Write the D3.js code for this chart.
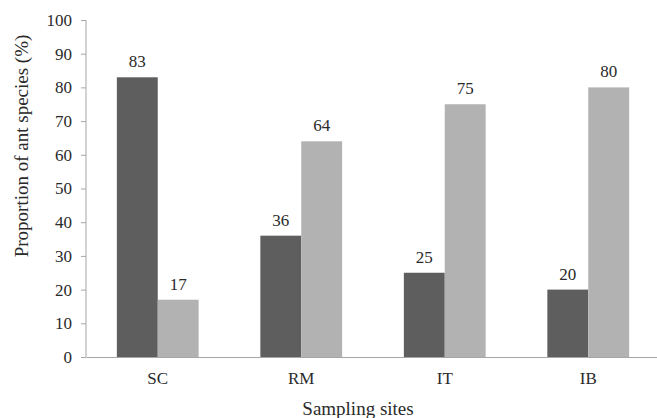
<!DOCTYPE html>
<html><head><meta charset="utf-8">
<script src="https://cdn.jsdelivr.net/npm/d3@7"></script>
<style>body{margin:0;background:#fff}svg{display:block}</style>
</head><body>
<script>
const categories = ["SC", "RM", "IT", "IB"];
const seriesNames = ["Series 1", "Series 2"];
const series1 = [83, 36, 25, 20];
const series2 = [17, 64, 75, 80];
const yTicks = [0,10,20,30,40,50,60,70,80,90,100];

const W = 657, H = 418;
const svg = d3.select("body").append("svg").attr("width", W).attr("height", H);
const font = "'Liberation Serif','Times New Roman',serif";
const colors = ["#5e5e5e", "#b2b2b2"];
const textColor = "#2a2a2a";

const x = d3.scaleBand().domain(categories).range([86, 660]).paddingInner(0.43).paddingOuter(0.215);
const xs = d3.scaleBand().domain(seriesNames).range([0, x.bandwidth()]);
const y = d3.scaleLinear().domain([0, 100]).range([357, 20]);

const data = categories.map((c, i) => ({c, vals: [series1[i], series2[i]]}));

const g = svg.append("g");
const groups = g.selectAll("g.cat").data(data).join("g").attr("transform", d => `translate(${x(d.c)},0)`);
groups.selectAll("rect").data(d => d.vals.map((v, j) => ({v, s: seriesNames[j], j})))
  .join("rect")
  .attr("x", d => xs(d.s)).attr("width", xs.bandwidth())
  .attr("y", d => y(d.v)).attr("height", d => y(0) - y(d.v))
  .attr("fill", d => colors[d.j]);
groups.selectAll("text").data(d => d.vals.map((v, j) => ({v, s: seriesNames[j]})))
  .join("text")
  .attr("x", d => xs(d.s) + xs.bandwidth()/2).attr("y", d => y(d.v) - 10)
  .attr("text-anchor", "middle").attr("font-family", font).attr("font-size", 17).attr("fill", textColor)
  .text(d => d.v);

// y axis
const ya = svg.append("g").attr("transform", "translate(86,0)")
  .call(d3.axisLeft(y).tickValues(yTicks).tickSize(5).tickPadding(9));
ya.select(".domain").attr("stroke", "#a6a6a6").attr("d", `M-0,${y(100)}V${y(0)}`);
ya.selectAll(".tick line").attr("stroke", "#a6a6a6");
ya.selectAll(".tick text").attr("font-family", font).attr("font-size", 17).attr("fill", textColor);

// x axis
const xa = svg.append("g").attr("transform", `translate(0,${y(0)})`)
  .call(d3.axisBottom(x).tickSize(0).tickPadding(15));
xa.select(".domain").attr("stroke", "#a6a6a6");
xa.selectAll(".tick text").attr("font-family", font).attr("font-size", 17).attr("fill", textColor);

svg.append("text").attr("x", 358).attr("y", 415).attr("text-anchor", "middle")
  .attr("font-family", font).attr("font-size", 19).attr("fill", textColor).text("Sampling sites");
svg.append("text").attr("transform", `translate(28,146) rotate(-90)`).attr("text-anchor", "middle")
  .attr("font-family", font).attr("font-size", 19).attr("fill", textColor).text("Proportion of ant species (%)");
</script>
</body></html>
